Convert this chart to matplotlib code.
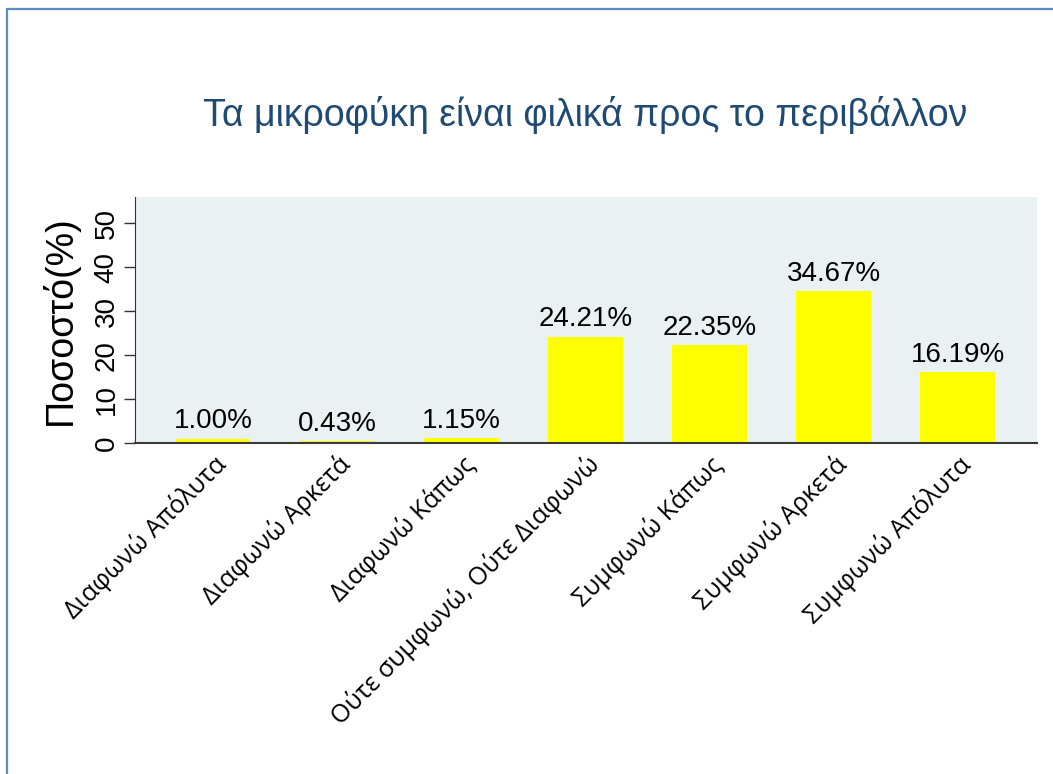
import numpy as np
import matplotlib.pyplot as plt
from matplotlib.patches import Rectangle

# data
categories = ['Διαφωνώ Απόλυτα', 'Διαφωνώ Αρκετά', 'Διαφωνώ Κάπως',
              'Ούτε συμφωνώ, Ούτε Διαφωνώ', 'Συμφωνώ Κάπως',
              'Συμφωνώ Αρκετά', 'Συμφωνώ Απόλυτα']
percent = [1.00, 0.43, 1.15, 24.21, 22.35, 34.67, 16.19]
yticks = [0, 10, 20, 30, 40, 50]

fig = plt.figure(figsize=(10.53, 7.74), dpi=100)
fig.patch.set_facecolor('white')

# frame round the picture (only left and top edges show)
fig.patches.append(Rectangle((7 / 1053, -0.05), 1.1, 1.05 - 9 / 774,
                             transform=fig.transFigure, fill=False,
                             edgecolor='#5B8BC8', linewidth=1.6))

ax = fig.add_axes([135 / 1053, 1 - 443 / 774, 902 / 1053, 246 / 774])
ax.set_facecolor('#E9F1F3')

x = np.arange(len(categories))
bars = ax.bar(x, percent, width=0.6, color='#FFFF00')

for b, v in zip(bars, percent):
    ax.annotate(f'{v:.2f}%', (b.get_x() + b.get_width() / 2, v),
                xytext=(0, 3), textcoords='offset points',
                ha='center', va='bottom', fontsize=20,
                family=['Liberation Sans'])

ax.set_xlim(-0.63, 6.64)
ax.set_ylim(0, 56)
ax.set_yticks(yticks)
ax.set_yticklabels([str(t) for t in yticks], rotation=90, va='center',
                   fontsize=20, family=['Liberation Sans'])
ax.set_xticks(x)
ax.set_xticklabels(categories, rotation=45, ha='right', rotation_mode='anchor',
                   fontsize=18, family=['Open Sans'])
ax.tick_params(axis='x', length=0, pad=6)
ax.tick_params(axis='y', length=8, width=1, color='#333333', pad=3)

for s in ['top', 'right']:
    ax.spines[s].set_visible(False)
ax.spines['left'].set_color('#333333')
ax.spines['bottom'].set_color('#3a3a3a')
ax.spines['bottom'].set_linewidth(1.5)

ax.set_ylabel('Ποσοστό(%)', fontsize=27, family=['Liberation Sans'], labelpad=11)

fig.text(585 / 1053, 1 - 115 / 774, 'Τα μικροφύκη είναι φιλικά προς το περιβάλλον',
         ha='center', va='center', fontsize=27, color='#1F4A73',
         family=['Liberation Sans'])

fig.savefig('out.png', dpi=100)
